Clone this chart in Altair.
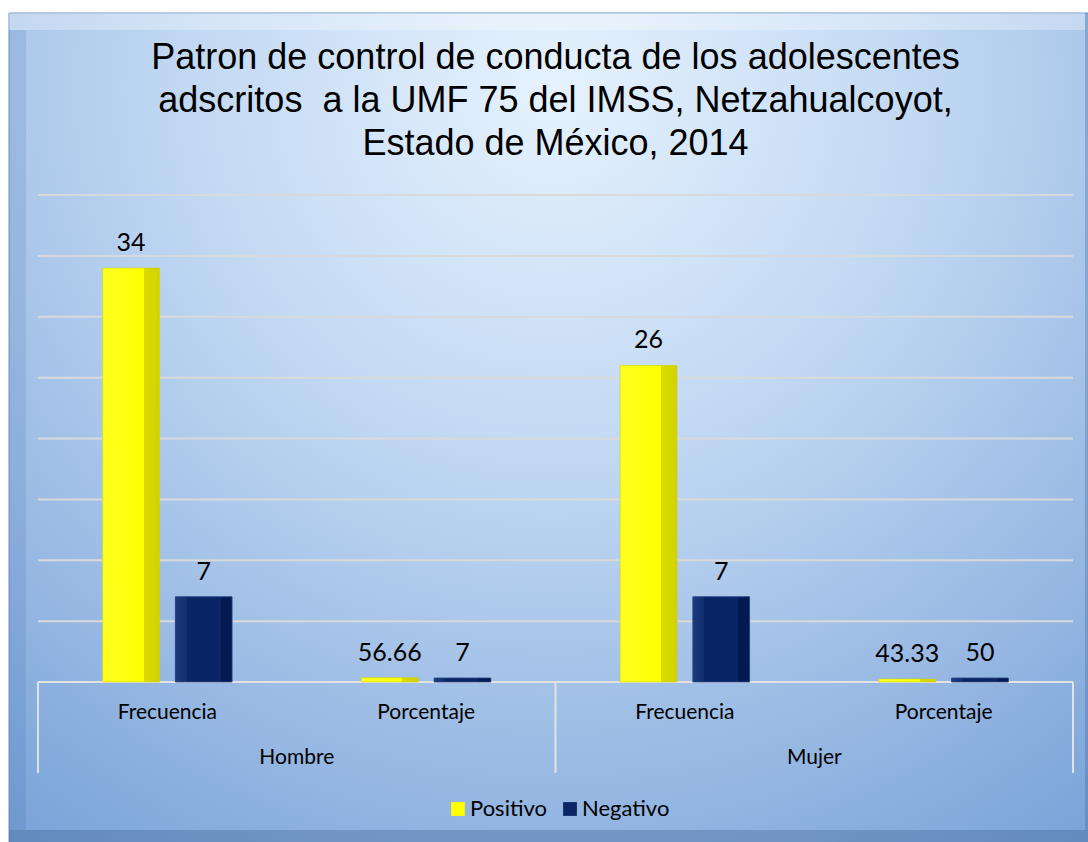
import altair as alt
import pandas as pd

# ---------------- data ----------------
sexo = ["Hombre", "Hombre", "Mujer", "Mujer"]
indicador = ["Frecuencia", "Porcentaje", "Frecuencia", "Porcentaje"]
series = ["Positivo", "Negativo"]
# bar heights as drawn in the picture (the Porcentaje bars are drawn almost flat)
positivo_alto = [34, 0.35, 26, 0.25]
negativo_alto = [7, 0.33, 7, 0.33]
# data labels as printed
positivo_etiqueta = ["34", "56.66", "26", "43.33"]
negativo_etiqueta = ["7", "7", "7", "50"]
grid_values = [0, 5, 10, 15, 20, 25, 30, 35, 40]
title_lines = [
    "Patron de control de conducta de los adolescentes",
    "adscritos \u00a0a la UMF 75 del IMSS, Netzahualcoyot,",
    "Estado de México, 2014",
]

# ---------------- tables ----------------
keys = [f"{s} · {i}" for s, i in zip(sexo, indicador)]
rows = []
for k, s, i, pa, na, pe, ne in zip(keys, sexo, indicador, positivo_alto,
                                   negativo_alto, positivo_etiqueta, negativo_etiqueta):
    rows.append({"key": k, "sexo": s, "indicador": i, "serie": "Positivo", "valor": pa, "etiqueta": pe})
    rows.append({"key": k, "sexo": s, "indicador": i, "serie": "Negativo", "valor": na, "etiqueta": ne})
df = pd.DataFrame(rows)
cats = pd.DataFrame({"key": keys, "sexo": sexo, "indicador": indicador})
grid = pd.DataFrame({"g": grid_values})
one = pd.DataFrame({"z": [0]})

W, H = 1035, 487
FONT = "Lato"

x_enc = alt.X("key:N", sort=keys, scale=alt.Scale(paddingInner=0.5, paddingOuter=0.25), axis=None)
xo_enc = alt.XOffset("serie:N", sort=series, scale=alt.Scale(paddingInner=0.22, paddingOuter=0))
y_scale = alt.Scale(domain=[0, 40], nice=False, zero=True)
y_enc = alt.Y("valor:Q", scale=y_scale, axis=None)

# ---------------- background frame ----------------
bg_grad = {
    "gradient": "radial",
    "x1": 0.5, "y1": 0.18, "r1": 0,
    "x2": 0.5, "y2": 0.18, "r2": 0.95,
    "stops": [
        {"offset": 0.0, "color": "#e6f2fe"},
        {"offset": 0.35, "color": "#c2d9f3"},
        {"offset": 0.7, "color": "#94b6e2"},
        {"offset": 1.0, "color": "#6a98d2"},
    ],
}
background = alt.Chart(one).mark_rect(fill=bg_grad, stroke="#6f93c4", strokeWidth=1).encode(
    x=alt.value(-29), x2=alt.value(W + 25), y=alt.value(-182), y2=alt.value(H + 175)
)
bevel_top = alt.Chart(one).mark_rect(fill="#ffffff", opacity=0.3).encode(
    x=alt.value(-29), x2=alt.value(W + 12), y=alt.value(-182), y2=alt.value(-165)
)
bevel_left = alt.Chart(one).mark_rect(fill="#1f4f9a", opacity=0.12).encode(
    x=alt.value(-29), x2=alt.value(-12), y=alt.value(-165), y2=alt.value(H + 148)
)
bevel_bottom = alt.Chart(one).mark_rect(fill="#3d5f8f", opacity=0.35).encode(
    x=alt.value(-29), x2=alt.value(W + 25), y=alt.value(H + 148), y2=alt.value(H + 175)
)
bevel_right = alt.Chart(one).mark_rect(fill="#3d5f8f", opacity=0.3).encode(
    x=alt.value(W + 12), x2=alt.value(W + 25), y=alt.value(-182), y2=alt.value(H + 148)
)

# ---------------- gridlines ----------------
gridlines = alt.Chart(grid).mark_rule(color="#d9d9d9", strokeWidth=2).encode(
    y=alt.Y("g:Q", scale=y_scale, axis=None), x=alt.value(0), x2=alt.value(W)
)

# ---------------- bars ----------------
bars = alt.Chart(df).mark_bar().encode(
    x=x_enc, xOffset=xo_enc, y=y_enc,
    color=alt.Color(
        "serie:N", sort=series,
        scale=alt.Scale(domain=series, range=["#ffff00", "#0b2566"]),
        legend=alt.Legend(
            title=None, orient="none", direction="horizontal",
            legendX=409, legendY=603, padding=0,
            symbolType="square", symbolSize=190, symbolStrokeWidth=0,
            labelFont=FONT, labelFontSize=22, labelColor="black",
            columnPadding=12, labelOffset=1,
        ),
    ),
)
yellow_grad = {
    "gradient": "linear", "x1": 0, "y1": 0, "x2": 1, "y2": 0,
    "stops": [
        {"offset": 0.0, "color": "#ffff22"},
        {"offset": 0.72, "color": "#ffff00"},
        {"offset": 0.72, "color": "#dcdc00"},
        {"offset": 1.0, "color": "#d2d200"},
    ],
}
blue_grad = {
    "gradient": "linear", "x1": 0, "y1": 0, "x2": 1, "y2": 0,
    "stops": [
        {"offset": 0.0, "color": "#1b397c"},
        {"offset": 0.2, "color": "#12306f"},
        {"offset": 0.2, "color": "#0a2566"},
        {"offset": 0.8, "color": "#0a2566"},
        {"offset": 0.8, "color": "#031b52"},
        {"offset": 1.0, "color": "#021a50"},
    ],
}
bars_yellow = alt.Chart(df).transform_filter(alt.datum.serie == "Positivo").mark_bar(
    fill=yellow_grad, stroke="#c8c800", strokeWidth=0.5
).encode(x=x_enc, xOffset=xo_enc, y=y_enc)
bars_blue = alt.Chart(df).transform_filter(alt.datum.serie == "Negativo").mark_bar(
    fill=blue_grad, stroke="#2b4a8a", strokeWidth=0.8
).encode(x=x_enc, xOffset=xo_enc, y=y_enc)

labels = alt.Chart(df).mark_text(
    baseline="alphabetic", dy=-17, font=FONT, fontSize=25, color="black"
).encode(x=x_enc, xOffset=xo_enc, y=y_enc, text="etiqueta:N")

# ---------------- category axis (two levels) ----------------
cat_labels = alt.Chart(cats).mark_text(
    baseline="middle", font=FONT, fontSize=21, color="black"
).encode(x=x_enc, y=alt.value(H + 31), text="indicador:N")
group_labels = alt.Chart(cats).transform_filter(alt.datum.indicador == "Frecuencia").mark_text(
    baseline="middle", font=FONT, fontSize=21, color="black", dx=129.4
).encode(x=x_enc, y=alt.value(H + 76), text="sexo:N")
axis_line = alt.Chart(one).mark_rule(color="#e2e2e2", strokeWidth=2).encode(
    x=alt.value(0), x2=alt.value(W), y=alt.value(H)
)
sep_rules = [
    alt.Chart(one).mark_rule(color="#e2e2e2", strokeWidth=2).encode(
        x=alt.value(px), y=alt.value(H), y2=alt.value(H + 91)
    )
    for px in (0, W / 2, W)
]

chart = alt.layer(
    background, bevel_top, bevel_left, bevel_bottom, bevel_right,
    gridlines, axis_line, *sep_rules,
    bars, bars_yellow, bars_blue, labels, cat_labels, group_labels,
).properties(
    width=W, height=H,
    title=alt.Title(
        text=title_lines, font="Liberation Sans", fontSize=36, fontWeight="normal",
        color="black", lineHeight=43, anchor="middle", offset=-150,
    ),
    autosize=alt.AutoSizeParams(type="none"),
    padding={"left": 38, "top": 195, "right": 15, "bottom": 160},
).configure_view(stroke=None).configure(background="white")

chart.save("out.html", embed_options={"renderer": "svg", "actions": False})
